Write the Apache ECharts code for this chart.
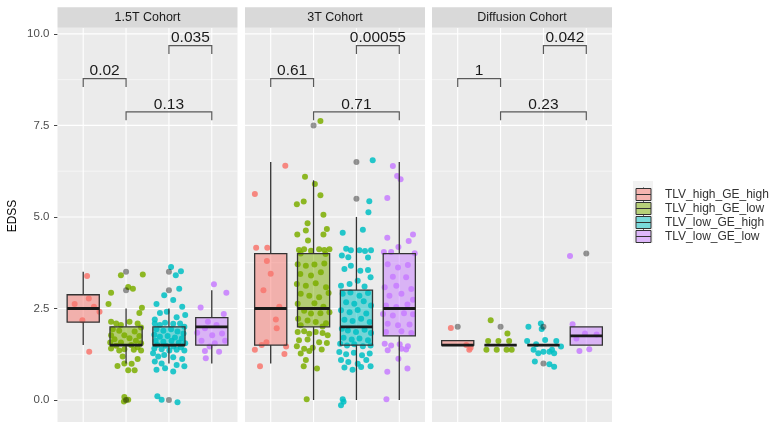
<!DOCTYPE html>
<html lang="en">
<head>
<meta charset="utf-8" />
<title>EDSS by lesion group</title>
<script src="https://cdn.jsdelivr.net/npm/echarts@6/dist/echarts.min.js"></script>
</head>
<body style="margin:0;background:#fff">
<div id="chart" style="width:777px;height:422px"></div>
<script>
const cohorts = ['1.5T Cohort', '3T Cohort', 'Diffusion Cohort']
const groups = ['TLV_high_GE_high', 'TLV_high_GE_low', 'TLV_low_GE_high', 'TLV_low_GE_low']
const colors = ['#F8766D', '#7CAE00', '#00BFC4', '#C77CFF']
const boxFill = ['rgba(248,118,109,0.5)', 'rgba(124,174,0,0.5)', 'rgba(0,191,196,0.5)', 'rgba(199,124,255,0.5)']

const yTicks = [0, 2.5, 5, 7.5, 10]
const yMinor = [1.25, 3.75, 6.25, 8.75]
const xTicks = [1, 2, 3, 4]

// box stats [lower whisker, Q1, median, Q3, upper whisker], one row per group
const box15T = [[1.5, 2.125, 2.5, 2.875, 3.5], [1.0, 1.5, 1.5, 2.0, 2.5], [1.0, 1.5, 1.5, 2.0, 2.5], [1.0, 1.5, 2.0, 2.25, 3.0]]
const box3T = [[1.0, 1.5, 2.5, 4.0, 6.5], [0, 2.0, 2.5, 4.0, 6.0], [0, 1.5, 2.0, 3.0, 5.0], [0, 1.75, 2.5, 4.0, 6.5]]
const boxDiff = [[1.5, 1.5, 1.5, 1.625, 1.625], [1.5, 1.5, 1.5, 1.5, 1.5], [1.5, 1.5, 1.5, 1.5, 1.5], [1.5, 1.5, 1.75, 2.0, 2.0]]

// boxplot outliers [group (1-4), EDSS]
const out15T = [[2, 3.5], [2, 3.0], [2, 0], [3, 3.5], [3, 3.0], [3, 0]]
const out3T = [[2, 7.5], [3, 6.5], [3, 5.5]]
const outDiff = [[1, 2.0], [2, 2.0], [3, 2.0], [3, 1.0], [4, 4.0]]

// jittered patients [offset from group centre, EDSS]
const pts15T = [
  [[0.09, 3.39], [0.13, 2.77], [0.38, 2.41], [-0.02, 2.18], [0.14, 1.32], [-0.2, 2.62], [0.25, 2.55]],
  [[-0.12, 3.41], [0.39, 3.43], [0.05, 3.09], [0.16, 3.04], [-0.35, 2.93], [-0.41, 2.62], [0.37, 2.52], [0.31, 2.38],
   [-0.35, 2.14], [-0.23, 2.09], [-0.12, 2.05], [0.08, 2.14], [0.27, 2.09], [0.35, 1.98], [-0.31, 1.93], [-0.16, 1.89],
   [0.2, 1.87], [-0.35, 1.77], [-0.04, 1.77], [0.31, 1.75], [-0.27, 1.66], [0.08, 1.69], [0.23, 1.62], [-0.37, 1.57],
   [-0.12, 1.57], [0.35, 1.55], [-0.23, 1.48], [0.12, 1.5], [0.27, 1.44], [-0.35, 1.41], [-0.04, 1.39], [0.18, 1.37],
   [0.35, 1.35], [-0.16, 1.35], [-0.2, 0.93], [-0.04, 1.0], [0.13, 0.99], [0.2, 0.81], [0.05, 0.81], [-0.08, 1.19],
   [0.27, 1.12], [-0.04, 0.08], [0.05, 0.01], [-0.05, -0.04]],
  [[0.05, 3.63], [0.28, 3.52], [0.16, 3.41], [0.24, 3.04], [-0.11, 2.86], [0.1, 2.73], [0.31, 2.55], [-0.29, 2.62],
   [-0.21, 2.38], [0.38, 2.32], [0.18, 2.26], [-0.05, 2.41], [-0.33, 2.2],
   [-0.33, 2.09], [-0.21, 2.05], [-0.09, 2.11], [0.1, 2.08], [0.26, 2.09], [0.36, 2.0], [-0.29, 1.93], [-0.13, 1.89],
   [0.05, 1.93], [0.2, 1.87], [0.34, 1.82], [-0.34, 1.78], [-0.21, 1.73], [-0.03, 1.75], [0.14, 1.71], [0.3, 1.68],
   [-0.31, 1.62], [-0.13, 1.59], [0.06, 1.62], [0.23, 1.57], [0.38, 1.55], [-0.27, 1.5], [-0.08, 1.48], [0.1, 1.46],
   [0.28, 1.44], [-0.34, 1.41], [-0.17, 1.39], [0.01, 1.35], [0.18, 1.37], [0.36, 1.35],
   [-0.37, 1.28], [-0.25, 1.19], [-0.11, 1.23], [0.1, 1.17], [0.31, 1.12], [-0.33, 1.05], [-0.17, 1.0], [0.18, 0.96],
   [0.36, 0.92], [-0.29, 0.83], [-0.09, 0.87], [0.1, 0.78], [-0.27, 0.1], [-0.17, 0.01], [0.2, -0.06]],
  [[0.05, 3.16], [0.34, 2.93], [-0.26, 2.53], [0.28, 2.35], [-0.34, 1.84], [-0.09, 2.14], [0.11, 2.05], [0.24, 1.82],
   [-0.16, 1.96], [0.01, 1.77], [-0.24, 1.62], [0.31, 1.62], [-0.16, 1.34], [0.17, 1.32], [-0.14, 1.14], [0.07, 1.55],
   [-0.05, 1.46]]
]
const pts3T = [
  [[0.34, 6.4], [-0.37, 5.63], [-0.34, 4.16], [-0.08, 4.16], [-0.09, 3.8], [0, 3.45], [-0.17, 3.0], [0.2, 2.55],
   [0.14, 1.96], [-0.21, 1.5], [-0.37, 1.37], [0.36, 1.46], [0.32, 1.26], [-0.25, 0.92], [0.12, 2.2], [-0.1, 1.58]],
  [[0.16, 7.62], [-0.2, 6.1], [0.03, 5.9], [0.16, 5.59], [-0.39, 5.35], [-0.23, 5.42], [0.23, 5.06], [-0.14, 4.83],
   [-0.38, 4.52], [-0.18, 4.63], [0.31, 4.67], [0.23, 4.52], [-0.13, 4.36], [-0.34, 4.1], [-0.22, 4.12], [-0.06, 4.08],
   [0.13, 4.12], [0.25, 4.1], [0.37, 4.12], [-0.3, 4.0], [0.28, 3.99],
   [-0.37, 3.71], [-0.18, 3.67], [0.02, 3.7], [0.25, 3.73], [-0.31, 3.44], [-0.06, 3.4], [0.17, 3.49], [-0.39, 3.17],
   [-0.18, 3.12], [0.05, 3.19], [0.29, 3.08], [-0.3, 2.9], [-0.1, 2.85], [0.13, 2.81], [0.35, 2.92], [-0.37, 2.63],
   [0.02, 2.64], [0.23, 2.55], [-0.22, 2.44], [-0.06, 2.36], [0.16, 2.37], [0.37, 2.4], [-0.36, 2.22], [-0.14, 2.17],
   [0.05, 2.13], [0.29, 2.1], [-0.3, 2.04], [0.21, 2.01],
   [-0.37, 1.86], [-0.22, 1.88], [-0.1, 1.81], [0.05, 1.86], [0.21, 1.83], [0.33, 1.77], [-0.34, 1.63], [-0.14, 1.65],
   [0.13, 1.58], [0.31, 1.56], [-0.39, 1.47], [-0.22, 1.4], [-0.02, 1.43], [0.19, 1.38], [-0.3, 1.27], [-0.1, 1.34],
   [-0.18, 1.09], [-0.23, 0.92], [0.08, 0.86], [-0.16, 0.02]],
  [[0.38, 6.55], [0.3, 5.43], [0.28, 5.13], [-0.32, 4.57], [0.15, 4.65], [-0.24, 4.13], [-0.13, 4.09], [0.07, 4.09],
   [0.2, 4.07], [0.34, 4.09], [-0.34, 3.95], [-0.19, 3.9], [0.27, 3.89],
   [-0.28, 3.58], [-0.13, 3.67], [0.09, 3.53], [0.27, 3.55], [0.33, 3.35], [-0.36, 3.12], [-0.16, 3.17], [0.03, 3.26],
   [0.19, 3.1],
   [-0.32, 2.9], [-0.14, 2.94], [0.07, 2.85], [0.27, 2.92], [-0.24, 2.67], [-0.05, 2.63], [0.17, 2.7], [0.34, 2.58],
   [-0.36, 2.45], [-0.16, 2.4], [0.03, 2.46], [0.23, 2.36], [-0.28, 2.19], [-0.09, 2.16], [0.11, 2.22], [0.31, 2.13],
   [-0.34, 1.95], [-0.2, 1.9], [-0.01, 1.86], [0.19, 1.92], [0.34, 1.83], [-0.3, 1.7], [-0.11, 1.65], [0.07, 1.68],
   [0.27, 1.63], [-0.38, 1.54], [-0.22, 1.49], [-0.05, 1.52], [0.15, 1.47], [0.33, 1.49],
   [-0.4, 1.31], [-0.24, 1.25], [-0.06, 1.29], [0.13, 1.22], [0.31, 1.27], [-0.36, 1.09], [-0.19, 1.04], [0.03, 0.99],
   [0.23, 1.09], [-0.28, 0.89], [-0.09, 0.83], [0.11, 0.9], [0.33, 0.92], [-0.32, 0.02], [-0.36, -0.14], [-0.3, -0.05]],
  [[-0.15, 6.39], [-0.05, 6.12], [0.03, 6.03], [-0.28, 5.52], [0.32, 4.52], [-0.28, 4.43], [-0.02, 4.18], [0.22, 4.34],
   [-0.36, 4.04], [-0.19, 4.04], [0.36, 4.01],
   [-0.27, 3.71], [-0.03, 3.62], [0.2, 3.69], [-0.15, 3.37], [0.16, 3.35], [-0.34, 3.08], [-0.07, 3.12], [0.28, 3.03],
   [-0.23, 2.85], [0.05, 2.9], [0.32, 2.74], [-0.31, 2.58], [-0.07, 2.54], [0.19, 2.61], [-0.38, 2.35], [-0.15, 2.31],
   [0.11, 2.37], [0.32, 2.34], [-0.27, 2.08], [-0.03, 2.04], [0.24, 2.06], [-0.31, 1.86], [0.05, 1.88], [0.28, 1.83],
   [-0.34, 1.54], [-0.19, 1.49], [0.01, 1.52], [0.2, 1.47], [-0.27, 1.36], [0.05, 1.4], [0.16, 1.38], [-0.02, 1.13],
   [0.19, 0.86], [-0.28, 0.77], [-0.3, 0.02]]
]
const ptsDiff = [
  [[-0.16, 1.97], [0.27, 1.37], [0.3, 1.43], [0.2, 1.5]],
  [[-0.23, 2.18], [0.16, 1.82], [-0.29, 1.61], [-0.05, 1.61], [0.2, 1.61], [-0.33, 1.37], [-0.09, 1.37], [0.14, 1.37],
   [0.26, 1.37]],
  [[-0.35, 2.0], [-0.06, 2.09], [-0.04, 1.94], [-0.38, 1.61], [-0.17, 1.52], [0.04, 1.64], [0.3, 1.61], [0.41, 1.46],
   [-0.23, 1.37], [0, 1.32], [0.14, 1.32], [0.25, 1.28], [0.2, 1.37], [-0.2, 1.05], [0.14, 0.98], [0.25, 0.91],
   [-0.12, 1.28]],
  [[-0.38, 3.93], [-0.32, 2.07], [-0.03, 1.82], [0.24, 1.79], [-0.16, 1.34], [0.07, 1.39], [-0.23, 1.68]]
]

// significance brackets [from group, to group, height] and their p-values
const brackets15T = [[1, 2, 8.78], [3, 4, 9.68], [2, 4, 7.87]]
const pvals15T = ['0.02', '0.035', '0.13']
const brackets3T = [[1, 2, 8.78], [3, 4, 9.68], [2, 4, 7.87]]
const pvals3T = ['0.61', '0.00055', '0.71']
const bracketsDiff = [[1, 2, 8.78], [3, 4, 9.68], [2, 4, 7.87]]
const pvalsDiff = ['1', '0.042', '0.23']

const panels = [
  { box: box15T, out: out15T, pts: pts15T, br: brackets15T, pv: pvals15T },
  { box: box3T, out: out3T, pts: pts3T, br: brackets3T, pv: pvals3T },
  { box: boxDiff, out: outDiff, pts: ptsDiff, br: bracketsDiff, pv: pvalsDiff }
]

const font = '"Liberation Sans", Arial, Helvetica, sans-serif'
const gridLeft = [57.5, 245, 432]
const gridW = 180
const gridTop = 28
const gridH = 397.7
const bracketDrop = 0.23

let chart = echarts.init(document.getElementById('chart'))

function renderGridLine(params, api) {
  let cs = params.coordSys
  let kind = api.value(0)
  let v = api.value(1)
  if (kind === 2) {
    let x = api.coord([v, 0])[0]
    return { type: 'line', shape: { x1: x, y1: cs.y, x2: x, y2: cs.y + cs.height }, style: { stroke: '#fff', lineWidth: 1.1 } }
  }
  let y = api.coord([1, v])[1]
  return {
    type: 'line',
    shape: { x1: cs.x, y1: y, x2: cs.x + cs.width, y2: y },
    style: { stroke: '#fff', lineWidth: kind === 0 ? 1.1 : 0.55 }
  }
}

function renderBox(params, api) {
  let gx = api.value(0)
  let lo = api.coord([gx, api.value(1)])
  let q1 = api.coord([gx, api.value(2)])
  let md = api.coord([gx, api.value(3)])
  let q3 = api.coord([gx, api.value(4)])
  let hi = api.coord([gx, api.value(5)])
  let w = api.size([0.75, 0])[0]
  let line = { stroke: '#333', lineWidth: 1.3 }
  return {
    type: 'group',
    children: [
      { type: 'line', shape: { x1: lo[0], y1: lo[1], x2: q1[0], y2: q1[1] }, style: line },
      { type: 'line', shape: { x1: q3[0], y1: q3[1], x2: hi[0], y2: hi[1] }, style: line },
      { type: 'rect', shape: { x: q3[0] - w / 2, y: q3[1], width: w, height: q1[1] - q3[1] },
        style: { fill: boxFill[gx - 1], stroke: '#333', lineWidth: 1.3 } },
      { type: 'line', shape: { x1: md[0] - w / 2, y1: md[1], x2: md[0] + w / 2, y2: md[1] },
        style: { stroke: '#1a1a1a', lineWidth: 2.8 } }
    ]
  }
}

function bracketRenderer(labels) {
  return function(params, api) {
    let a = api.value(0), b = api.value(1), h = api.value(2)
    let p1 = api.coord([a, h - bracketDrop])
    let p2 = api.coord([a, h])
    let p3 = api.coord([b, h])
    let p4 = api.coord([b, h - bracketDrop])
    return {
      type: 'group',
      children: [
        { type: 'polyline', shape: { points: [p1, p2, p3, p4] }, style: { stroke: '#595959', lineWidth: 1.2, fill: null } },
        { type: 'text', x: (p2[0] + p3[0]) / 2, y: p2[1] + 0.5,
          style: { text: labels[params.dataIndex], fill: '#1a1a1a', fontSize: 15.5, fontFamily: font,
                   align: 'center', verticalAlign: 'bottom' } }
      ]
    }
  }
}

let gridLineData = yTicks.map(v => [0, v]).concat(yMinor.map(v => [1, v]), xTicks.map(v => [2, v]))

let grids = [], xAxes = [], yAxes = [], series = [], graphics = []

panels.forEach((p, i) => {
  grids.push({ left: gridLeft[i], top: gridTop, width: gridW, height: gridH, show: true,
               backgroundColor: '#EBEBEB', borderWidth: 0 })
  xAxes.push({ gridIndex: i, type: 'value', min: 0.4, max: 4.6, show: false })
  yAxes.push({
    gridIndex: i, type: 'value', min: -0.6, max: 10.16,
    axisLine: { show: false },
    splitLine: { show: false },
    axisTick: { show: i === 0, length: 3.5, customValues: yTicks, lineStyle: { color: '#444', width: 1 } },
    axisLabel: { show: i === 0, customValues: yTicks, margin: 8, color: '#4D4D4D', fontSize: 11.5, fontFamily: font,
                 formatter: v => v.toFixed(1) }
  })

  series.push({
    type: 'custom', xAxisIndex: i, yAxisIndex: i, silent: true, z: 1,
    renderItem: renderGridLine, data: gridLineData
  })

  p.pts.forEach((list, g) => {
    series.push({
      type: 'scatter', name: groups[g], xAxisIndex: i, yAxisIndex: i, silent: true, z: 2,
      symbolSize: 6,
      itemStyle: { color: colors[g], opacity: 0.85 },
      data: list.map(d => [g + 1 + d[0], d[1]])
    })
  })

  series.push({
    type: 'custom', xAxisIndex: i, yAxisIndex: i, silent: true, z: 3,
    renderItem: renderBox,
    encode: { x: 0, y: [1, 2, 3, 4, 5] },
    data: p.box.map((b, g) => [g + 1].concat(b))
  })

  series.push({
    type: 'scatter', xAxisIndex: i, yAxisIndex: i, silent: true, z: 4,
    symbolSize: 6,
    itemStyle: { color: 'rgba(0,0,0,0.5)' },
    data: p.out
  })

  series.push({
    type: 'custom', xAxisIndex: i, yAxisIndex: i, silent: true, z: 5,
    renderItem: bracketRenderer(p.pv),
    data: p.br
  })

  graphics.push({ type: 'rect', left: gridLeft[i], top: 7.3, shape: { width: gridW, height: 20.4 },
                  style: { fill: '#D9D9D9' }, silent: true })
  graphics.push({ type: 'text', x: gridLeft[i] + gridW / 2, y: 17.6,
                  style: { text: cohorts[i], fill: '#1A1A1A', fontSize: 12.5, fontFamily: font,
                           align: 'center', verticalAlign: 'middle' }, silent: true })
})

graphics.push({ type: 'text', x: 12.5, y: 216, rotation: Math.PI / 2,
                style: { text: 'EDSS', fill: '#000', fontSize: 12, fontFamily: font,
                         align: 'center', verticalAlign: 'middle' }, silent: true })
graphics.push({ type: 'rect', left: 633, top: 181, shape: { width: 20, height: 62 },
                style: { fill: '#F2F2F2' }, silent: true, z: -1 })

const keyIcon = 'path://M0,1H15V13H0Z M7.5,0V1 M7.5,13V14 M0,7H15'

chart.setOption({
  animation: false,
  backgroundColor: '#fff',
  textStyle: { fontFamily: font },
  grid: grids,
  xAxis: xAxes,
  yAxis: yAxes,
  graphic: graphics,
  legend: {
    orient: 'vertical', left: 630.5, top: 182,
    itemWidth: 33, itemHeight: 14, itemGap: -1,
    selectedMode: false,
    textStyle: { fontSize: 12, color: '#333', fontFamily: font },
    data: groups.map((g, k) => ({
      name: g, icon: keyIcon,
      itemStyle: { color: boxFill[k], borderColor: '#333', borderWidth: 1, opacity: 1 }
    }))
  },
  series: series
})
</script>
</body>
</html>
